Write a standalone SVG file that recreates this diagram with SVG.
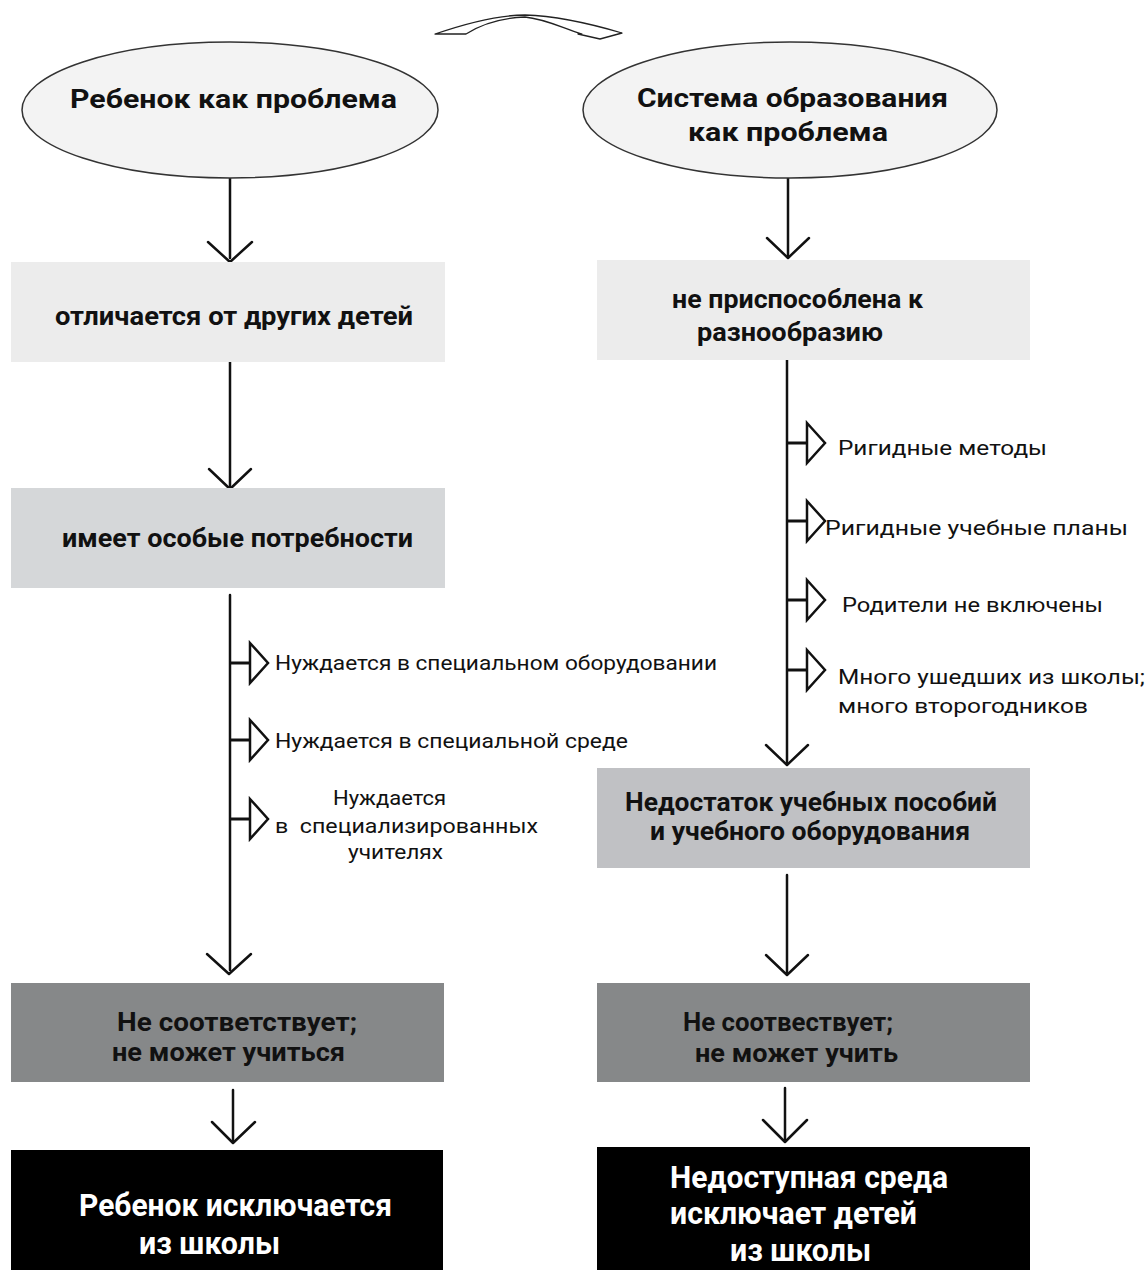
<svg xmlns="http://www.w3.org/2000/svg" xmlns:xlink="http://www.w3.org/1999/xlink" width="1148" height="1270" viewBox="0 0 1148 1270">
<style>
.ell{fill:#f3f3f3;stroke:#333;stroke-width:1.5}
.b1{fill:#ececec}
.b2{fill:#d5d7d9}
.b3{fill:#c0c1c4}
.b4{fill:#868889}
.b5{fill:#000}
.t{font-family:Roboto,"Liberation Sans",sans-serif;font-weight:bold;font-size:26px;fill:#111}
.tw{font-family:Roboto,"Liberation Sans",sans-serif;font-weight:bold;font-size:32px;fill:#fff}
.s{font-family:Roboto,"Liberation Sans",sans-serif;font-size:21px;fill:#111}
.ln{stroke:#111;stroke-width:2.5;fill:none;stroke-linecap:round;stroke-linejoin:round}
.sa{stroke:#111;stroke-width:2.5;fill:#fff;stroke-linejoin:miter}
</style>
<defs>
<g id="side">
<line x1="0" y1="0" x2="20" y2="0" stroke="#111" stroke-width="3"/>
<path d="M20,-20 L38,0 L20,20 Z" class="sa"/>
</g>
</defs>
<rect width="1148" height="1270" fill="#fff"/>

<g id="connectors">
<path d="M435,34 C470,22 500,15 525,15 C560,16 595,25 622,33 L600,39 L578,34 L582,34 C560,27 545,19 525,17 C500,18 480,25 466,34 Z" fill="none" stroke="#222" stroke-width="1.3" stroke-linejoin="round"/>
<!-- left column -->
<line class="ln" x1="230" y1="178" x2="230" y2="258"/>
<polyline class="ln" points="208,242 230,262 252,242"/>
<line class="ln" x1="230" y1="362" x2="230" y2="486"/>
<polyline class="ln" points="209,469 230,489 251,469"/>
<line class="ln" x1="230" y1="595" x2="230" y2="970"/>
<polyline class="ln" points="207,954 229,974 251,954"/>
<line class="ln" x1="233" y1="1090" x2="233" y2="1141"/>
<polyline class="ln" points="212,1122 233,1143 255,1122"/>
<!-- right column -->
<line class="ln" x1="788" y1="178" x2="788" y2="255"/>
<polyline class="ln" points="767,238 788,258 809,238"/>
<line class="ln" x1="787" y1="360" x2="787" y2="762"/>
<polyline class="ln" points="766,745 787,765 808,745"/>
<line class="ln" x1="787" y1="875" x2="787" y2="972"/>
<polyline class="ln" points="766,955 787,975 808,955"/>
<line class="ln" x1="785" y1="1088" x2="785" y2="1140"/>
<polyline class="ln" points="763,1120 785,1142 807,1120"/>
<!-- side arrows -->
<use xlink:href="#side" x="230" y="663"/>
<use xlink:href="#side" x="230" y="740"/>
<use xlink:href="#side" x="230" y="819"/>
<use xlink:href="#side" x="787" y="443"/>
<use xlink:href="#side" x="787" y="521"/>
<use xlink:href="#side" x="787" y="600"/>
<use xlink:href="#side" x="787" y="670"/>
</g>

<g id="n-child-problem">
<ellipse class="ell" cx="230" cy="110" rx="208" ry="68"/>
<text class="t" x="70" y="108" textLength="327" lengthAdjust="spacingAndGlyphs">Ребенок как проблема</text>
</g>
<g id="n-system-problem">
<ellipse class="ell" cx="790" cy="110" rx="207" ry="68"/>
<text class="t" x="637" y="107" textLength="311" lengthAdjust="spacingAndGlyphs">Система образования</text>
<text class="t" x="688" y="141" textLength="200" lengthAdjust="spacingAndGlyphs">как проблема</text>
</g>

<g id="n-differs">
<rect class="b1" x="11" y="262" width="434" height="100"/>
<text class="t" x="55" y="325" textLength="358" lengthAdjust="spacingAndGlyphs">отличается от других детей</text>
</g>
<g id="n-not-adapted">
<rect class="b1" x="597" y="260" width="433" height="100"/>
<text class="t" x="672" y="308" textLength="251" lengthAdjust="spacingAndGlyphs">не приспособлена к</text>
<text class="t" x="697" y="341" textLength="186" lengthAdjust="spacingAndGlyphs">разнообразию</text>
</g>
<g id="n-special-needs">
<rect class="b2" x="11" y="488" width="434" height="100"/>
<text class="t" x="62" y="547" textLength="351" lengthAdjust="spacingAndGlyphs">имеет особые потребности</text>
</g>

<g id="n-left-items">
<text class="s" x="275" y="670" textLength="442" lengthAdjust="spacingAndGlyphs">Нуждается в специальном оборудовании</text>
<text class="s" x="275" y="748" textLength="353" lengthAdjust="spacingAndGlyphs">Нуждается в специальной среде</text>
<text class="s" x="333" y="805" textLength="113" lengthAdjust="spacingAndGlyphs">Нуждается</text>
<text class="s" x="275" y="833" textLength="263" lengthAdjust="spacingAndGlyphs" xml:space="preserve">в  специализированных</text>
<text class="s" x="348" y="859" textLength="95" lengthAdjust="spacingAndGlyphs">учителях</text>
</g>
<g id="n-right-items">
<text class="s" x="838" y="455" textLength="209" lengthAdjust="spacingAndGlyphs">Ригидные методы</text>
<text class="s" x="825" y="535" textLength="303" lengthAdjust="spacingAndGlyphs">Ригидные учебные планы</text>
<text class="s" x="842" y="612" textLength="261" lengthAdjust="spacingAndGlyphs">Родители не включены</text>
<text class="s" x="838" y="684" textLength="307" lengthAdjust="spacingAndGlyphs">Много ушедших из школы;</text>
<text class="s" x="838" y="713" textLength="250" lengthAdjust="spacingAndGlyphs">много второгодников</text>
</g>

<g id="n-lack">
<rect class="b3" x="597" y="768" width="433" height="100"/>
<text class="t" x="625" y="811" textLength="372" lengthAdjust="spacingAndGlyphs">Недостаток учебных пособий</text>
<text class="t" x="650" y="840" textLength="320" lengthAdjust="spacingAndGlyphs">и учебного оборудования</text>
</g>

<g id="n-cannot-learn">
<rect class="b4" x="11" y="983" width="433" height="99"/>
<text class="t" x="117" y="1031" textLength="240" lengthAdjust="spacingAndGlyphs">Не соответствует;</text>
<text class="t" x="112" y="1061" textLength="233" lengthAdjust="spacingAndGlyphs">не может учиться</text>
</g>
<g id="n-cannot-teach">
<rect class="b4" x="597" y="983" width="433" height="99"/>
<text class="t" x="683" y="1031" textLength="210" lengthAdjust="spacingAndGlyphs">Не соотвествует;</text>
<text class="t" x="695" y="1062" textLength="203" lengthAdjust="spacingAndGlyphs">не может учить</text>
</g>

<g id="n-child-excluded">
<rect class="b5" x="11" y="1150" width="432" height="120"/>
<text class="tw" x="79" y="1216" textLength="313" lengthAdjust="spacingAndGlyphs">Ребенок исключается</text>
<text class="tw" x="139" y="1254" textLength="141" lengthAdjust="spacingAndGlyphs">из школы</text>
</g>
<g id="n-env-excludes">
<rect class="b5" x="597" y="1147" width="433" height="123"/>
<text class="tw" x="670" y="1188" textLength="278" lengthAdjust="spacingAndGlyphs">Недоступная среда</text>
<text class="tw" x="670" y="1224" textLength="247" lengthAdjust="spacingAndGlyphs">исключает детей</text>
<text class="tw" x="730" y="1261" textLength="141" lengthAdjust="spacingAndGlyphs">из школы</text>
</g>
</svg>
